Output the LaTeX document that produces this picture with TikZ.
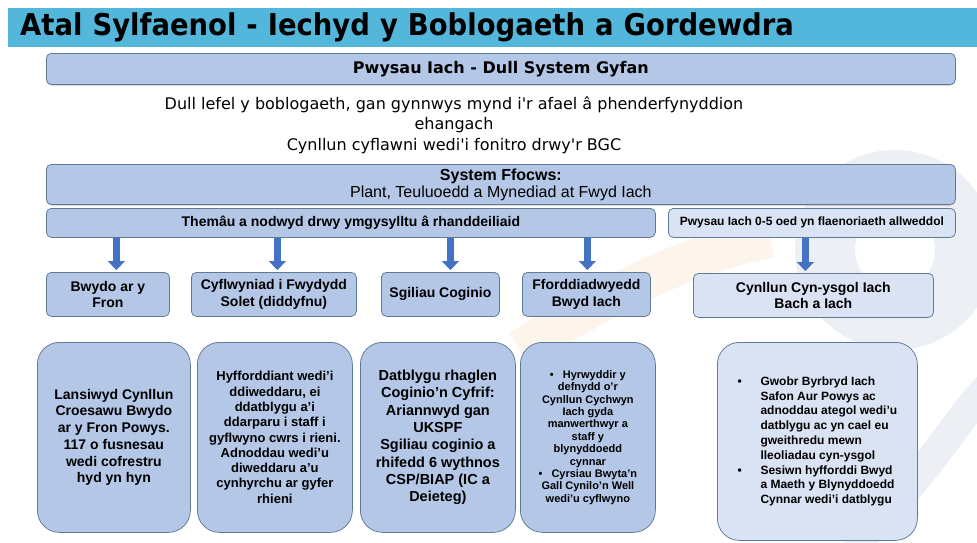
\documentclass[tikz,border=0pt]{standalone}
\usepackage{fontspec}
\setmainfont{Liberation Sans}
\newfontfamily\tahoma{DejaVu Sans}
\newfontfamily\headfont[FakeStretch=0.915]{DejaVu Sans}
\usetikzlibrary{positioning,shadows,calc,arrows.meta}

\begin{document}
\begin{tikzpicture}[x=1pt,y=-1pt]
  % some colors
  \definecolor{titleblue}{RGB}{83,183,220}
  \definecolor{lightblue}{RGB}{180,199,231}
  \definecolor{paleblue}{RGB}{218,227,243}
  \definecolor{edge}{RGB}{94,122,148}
  \definecolor{arrowblue}{RGB}{68,114,196}
  \definecolor{wmgrey}{RGB}{236,240,244}
  \definecolor{wmorange}{RGB}{253,245,236}
  % some styles
  \tikzset{
    panel/.style={
      draw=edge,
      fill=#1,
      line width=0.75pt,
      rounded corners=5pt,
      inner sep=0pt,
      anchor=north west,
      align=center,
      font=\bfseries\fontsize{14}{16.7}\selectfont,
    },
    panel/.default=lightblue,
    card/.style={panel=#1, rounded corners=22pt},
    card/.default=lightblue,
    lift/.style={drop shadow={shadow xshift=0pt, shadow yshift=-1.5pt, opacity=0.3}},
    feed/.style={arrowblue, line width=7pt, shorten >=2pt, -{Triangle[width=17pt,length=9pt]}},
  }
  \fill[white] (0,0) rectangle (977,542);
  \useasboundingbox (0,0) rectangle (977,542);
  % faint logo in the background
  \begin{scope}
    \clip (0,0) rectangle (977,542);
    \draw[wmgrey, line width=60pt] (895,250) circle (70);
    \draw[wmgrey, line width=30pt] (850,548) .. controls (925,480) and (955,420) .. (990,385);
    \draw[wmorange, line width=40pt] (520,350) .. controls (600,300) and (680,255) .. (770,238);
  \end{scope}
  % heading
  \node[anchor=north west, fill=titleblue, minimum width=969pt, minimum height=39pt,
        inner xsep=12pt, inner ysep=0pt, text width=945pt, align=left,
        font=\headfont\bfseries\fontsize{30}{34}\selectfont] (title) at (8,8)
        {Atal Sylfaenol - Iechyd y Boblogaeth a Gordewdra};
  \node[panel, lift, minimum width=909pt, minimum height=31pt,
        font=\tahoma\bfseries\fontsize{16}{19}\selectfont] (whole) at (46,53)
        {Pwysau Iach - Dull System Gyfan};
  \node[align=center, font=\tahoma\fontsize{16}{20.5}\selectfont] (approach) at (454,125)
        {Dull lefel y boblogaeth, gan gynnwys mynd i'r afael â phenderfynyddion\\
         ehangach\\Cynllun cyflawni wedi'i fonitro drwy'r BGC};
  \node[panel, lift, minimum width=909pt, minimum height=40pt,
        font=\fontsize{16}{17}\selectfont] (focus) at (46,164)
        {\textbf{System Ffocws:}\\Plant, Teuluoedd a Mynediad at Fwyd Iach};
  % themes
  \node[panel, minimum width=609pt, minimum height=29pt] (themes) at (46,208)
        {Themâu a nodwyd drwy ymgysylltu â rhanddeiliaid};
  \node[panel=paleblue, minimum width=287pt, minimum height=29pt,
        font=\bfseries\fontsize{12}{14}\selectfont] (priority) at (668,208)
        {Pwysau Iach 0-5 oed yn flaenoriaeth allweddol};
  \node[panel, minimum width=123pt, minimum height=44pt] (bwydo) at (46,272) {Bwydo ar y\\Fron};
  \node[panel, minimum width=165pt, minimum height=44pt] (solet) at (191,272) {Cyflwyniad i Fwydydd\\Solet (diddyfnu)};
  \node[panel, minimum width=118pt, minimum height=44pt] (sgiliau) at (381,272) {Sgiliau Coginio};
  \node[panel, minimum width=128pt, minimum height=44pt] (fforddiad) at (522,272) {Fforddiadwyedd\\Bwyd Iach};
  \node[panel=paleblue, minimum width=240pt, minimum height=44pt] (cynllun) at (693,273) {Cynllun Cyn-ysgol Iach\\Bach a Iach};
  % arrows from the themes
  \foreach \dst/\dx in {bwydo/8.5, solet/3.5, sgiliau/10, fforddiad/1} {
    \draw[feed] ($(\dst.north |- themes.south)+(\dx,0)$) -- ($(\dst.north)+(\dx,0)$);
  }
  \draw[feed] ($(cynllun.north |- priority.south)+(-8,0)$) -- ($(cynllun.north)+(-8,0)$);
  % results
  \node[card, minimum width=153pt, minimum height=190pt] (launch) at (37,342)
        {Lansiwyd Cynllun\\Croesawu Bwydo\\ar y Fron Powys.\\117 o fusnesau\\wedi cofrestru\\hyd yn hyn};
  \node[card, minimum width=155pt, minimum height=190pt,
        font=\bfseries\fontsize{13}{15.3}\selectfont] (training) at (197,342)
        {Hyfforddiant wedi'i\\ddiweddaru, ei\\ddatblygu a'i\\ddarparu i staff i\\gyflwyno cwrs i rieni.\\
         Adnoddau wedi'u\\diweddaru a'u\\cynhyrchu ar gyfer\\rhieni};
  \node[card, minimum width=155pt, minimum height=190pt,
        font=\bfseries\fontsize{14.5}{17.3}\selectfont] (cookery) at (360,342)
        {Datblygu rhaglen\\Coginio'n Cyfrif:\\Ariannwyd gan\\UKSPF\\Sgiliau coginio a\\rhifedd 6 wythnos\\CSP/BIAP (IC a\\Deieteg)};
  \node[card, minimum width=135pt, minimum height=190pt,
        font=\bfseries\fontsize{11}{12.4}\selectfont] (retail) at (520,342)
        {•\hspace{9pt}Hyrwyddir y\\defnydd o’r\\Cynllun Cychwyn\\Iach gyda\\manwerthwyr a\\staff y\\blynyddoedd\\cynnar\\
         •\hspace{9pt}Cyrsiau Bwyta’n\\Gall Cynilo’n Well\\wedi’u cyflwyno};
  \node[card=paleblue, minimum width=200pt, minimum height=198pt, align=left,
        font=\bfseries\fontsize{12}{14.8}\selectfont] (snack) at (717,342)
        {\makebox[23pt][l]{•}Gwobr Byrbryd Iach\\\hspace*{23pt}Safon Aur Powys ac\\
         \hspace*{23pt}adnoddau ategol wedi'u\\\hspace*{23pt}datblygu ac yn cael eu\\
         \hspace*{23pt}gweithredu mewn\\\hspace*{23pt}lleoliadau cyn-ysgol\\
         \makebox[23pt][l]{•}Sesiwn hyfforddi Bwyd\\\hspace*{23pt}a Maeth y Blynyddoedd\\
         \hspace*{23pt}Cynnar wedi'i datblygu};
\end{tikzpicture}
\end{document}
